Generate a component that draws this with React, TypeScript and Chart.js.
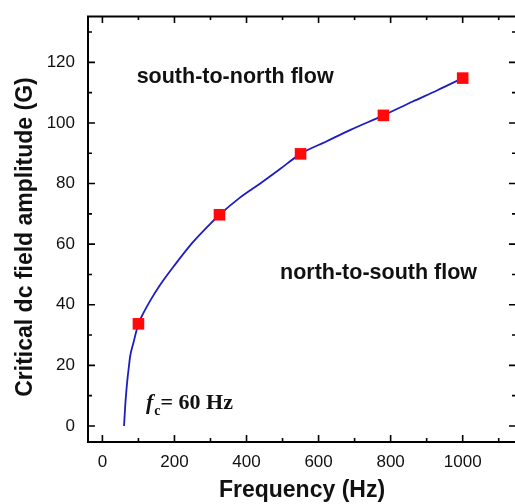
import React, { useEffect, useRef } from "react";
import { Chart, registerables } from "chart.js";

Chart.register(...registerables);

// ---- data ----
const curveFreq = [60, 62, 63.5, 66, 70, 73.5, 77, 86, 100, 114, 134, 160, 200, 250, 300, 325, 380, 440, 493, 550, 620, 690, 780, 860, 930, 1000];
const curveField = [0, 4, 7, 10.9, 16, 19.6, 23, 27.4, 33.7, 37.3, 41.6, 46.5, 53, 60.5, 66.8, 69.7, 75.2, 80.2, 84.8, 89.8, 93.8, 97.8, 102.5, 107, 110.8, 114.8];
const markerFreq = [100, 325, 550, 780, 1000];
const markerField = [33.7, 69.7, 89.8, 102.5, 114.8];

const xMajorTicks = [0, 200, 400, 600, 800, 1000];
const xMinorTicks = [100, 300, 500, 700, 900, 1100];
const yMajorTicks = [0, 20, 40, 60, 80, 100, 120];
const yMinorTicks = [10, 30, 50, 70, 90, 110, 130];

const xTitle = "Frequency (Hz)";
const yTitle = "Critical dc field amplitude (G)";
const upperLabel = "south-to-north flow";
const lowerLabel = "north-to-south flow";
const fcLabel = "= 60 Hz";

const X_MIN = -40;
const X_MAX = 1148;
const Y_MIN = -5.3;
const Y_MAX = 135.3;

const SANS = '"Liberation Sans", Arial, sans-serif';
const SERIF = '"Liberation Serif", "Times New Roman", serif';

const framePlugin = {
  id: "framePlugin",
  afterDraw(chart: any) {
    const { ctx, chartArea } = chart;
    const xs = chart.scales.x;
    const ys = chart.scales.y;
    const { left, right, top, bottom } = chartArea;
    ctx.save();
    ctx.strokeStyle = "#000";
    ctx.lineWidth = 2;
    ctx.strokeRect(left, top + 0.5, right - left, bottom - top - 0.5);
    ctx.lineWidth = 1.6;
    const major = 7;
    const minor = 4;
    ctx.beginPath();
    const xt = (v: number, len: number) => {
      const p = xs.getPixelForValue(v);
      ctx.moveTo(p, bottom);
      ctx.lineTo(p, bottom - len);
      ctx.moveTo(p, top);
      ctx.lineTo(p, top + len);
    };
    const yt = (v: number, len: number) => {
      const p = ys.getPixelForValue(v);
      ctx.moveTo(left, p);
      ctx.lineTo(left + len, p);
      ctx.moveTo(right, p);
      ctx.lineTo(right - len, p);
    };
    xMajorTicks.forEach((v) => xt(v, major));
    xMinorTicks.forEach((v) => xt(v, minor));
    yMajorTicks.forEach((v) => yt(v, major));
    yMinorTicks.forEach((v) => yt(v, minor));
    ctx.stroke();

    // y axis title (slightly below the plot centre, as in the reference)
    ctx.save();
    ctx.translate(ys.left + 26, (top + bottom) / 2 + 8);
    ctx.rotate(-Math.PI / 2);
    ctx.fillStyle = "#111";
    ctx.textAlign = "center";
    ctx.textBaseline = "middle";
    ctx.font = `bold 23px ${SANS}`;
    ctx.fillText(yTitle, 0, 0);
    ctx.restore();

    // annotations
    ctx.fillStyle = "#111";
    ctx.textBaseline = "middle";
    ctx.textAlign = "left";
    ctx.font = `bold 21.5px ${SANS}`;
    ctx.fillText(upperLabel, xs.getPixelForValue(95), ys.getPixelForValue(115));
    ctx.fillText(lowerLabel, xs.getPixelForValue(493), ys.getPixelForValue(50.5));

    // f_c = 60 Hz
    ctx.textBaseline = "alphabetic";
    let fx = xs.getPixelForValue(121);
    const fy = ys.getPixelForValue(5.6);
    ctx.font = `italic bold 22px ${SERIF}`;
    ctx.fillText("f", fx, fy);
    fx += ctx.measureText("f").width + 1;
    ctx.font = `bold 14px ${SERIF}`;
    ctx.fillText("c", fx, fy + 6);
    fx += ctx.measureText("c").width;
    ctx.font = `bold 22px ${SERIF}`;
    ctx.fillText(fcLabel, fx, fy);
    ctx.restore();
  },
};

export default function App() {
  const ref = useRef<HTMLCanvasElement | null>(null);
  useEffect(() => {
    if (!ref.current) return;
    const zeroPad = (s: any) => {
      s.paddingLeft = 0;
      s.paddingRight = 0;
      s.paddingTop = 0;
      s.paddingBottom = 0;
    };
    const chart = new Chart(ref.current, {
      type: "scatter",
      data: {
        datasets: [
          {
            data: markerFreq.map((x, i) => ({ x, y: markerField[i] })),
            pointStyle: "rect",
            pointRadius: 8.2,
            pointHoverRadius: 8.2,
            backgroundColor: "#ff0a0a",
            borderColor: "#ff0a0a",
            borderWidth: 0,
            showLine: false,
            order: 0,
          },
          {
            data: curveFreq.map((x, i) => ({ x, y: curveField[i] })),
            showLine: true,
            pointRadius: 0,
            borderColor: "#1c1cc4",
            borderWidth: 1.8,
            cubicInterpolationMode: "monotone",
            order: 1,
          },
        ],
      },
      options: {
        animation: false,
        responsive: false,
        maintainAspectRatio: false,
        events: [],
        layout: { autoPadding: false, padding: { left: 0, top: 16, right: 4, bottom: 0 } },
        plugins: { legend: { display: false }, tooltip: { enabled: false } },
        scales: {
          x: {
            type: "linear",
            min: X_MIN,
            max: X_MAX,
            grid: { display: false, drawTicks: false },
            border: { display: false },
            afterBuildTicks: (s: any) => {
              s.ticks = xMajorTicks.map((v) => ({ value: v }));
            },
            afterFit: (s: any) => {
              s.height = 62;
              zeroPad(s);
            },
            ticks: {
              color: "#111",
              padding: 10,
              maxRotation: 0,
              autoSkip: false,
              callback: (v: any) => String(v),
              font: { family: SANS, size: 17 },
            },
            title: {
              display: true,
              text: xTitle,
              color: "#111",
              padding: { top: 0, bottom: 0 },
              font: { family: SANS, size: 23, weight: "bold" },
            },
          },
          y: {
            type: "linear",
            min: Y_MIN,
            max: Y_MAX,
            grid: { display: false, drawTicks: false },
            border: { display: false },
            afterBuildTicks: (s: any) => {
              s.ticks = yMajorTicks.map((v) => ({ value: v }));
            },
            afterFit: (s: any) => {
              s.width = 88;
              zeroPad(s);
            },
            ticks: {
              color: "#111",
              padding: 13,
              autoSkip: false,
              callback: (v: any) => String(v),
              font: { family: SANS, size: 17 },
            },
            title: { display: false },
          },
        },
      },
      plugins: [framePlugin],
    } as any);
    return () => chart.destroy();
  }, []);
  return (
    <div
      style={{
        position: "fixed",
        left: 0,
        top: 0,
        width: 515,
        height: 504,
        overflow: "hidden",
        background: "#fff",
      }}
    >
      <canvas ref={ref} width={520} height={504} style={{ display: "block", width: 520, height: 504 }} />
    </div>
  );
}
